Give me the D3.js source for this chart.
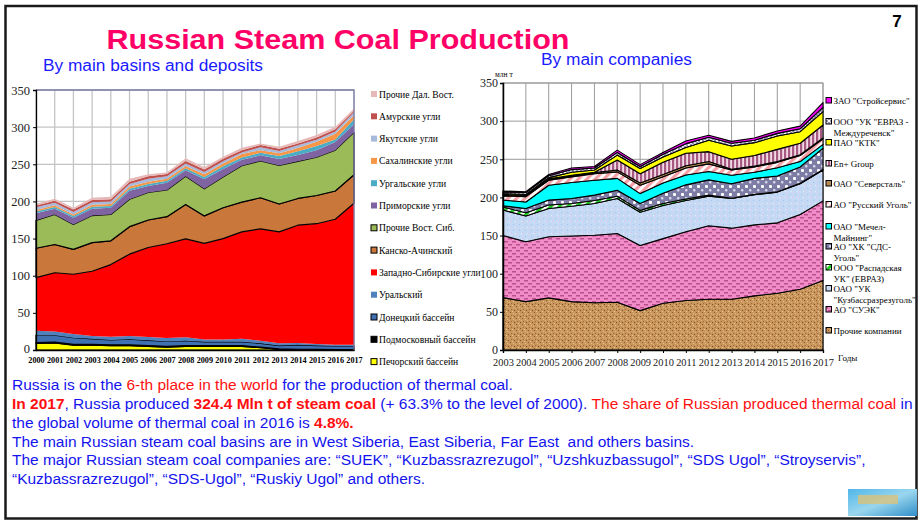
<!DOCTYPE html>
<html>
<head>
<meta charset="utf-8">
<script src="https://cdn.jsdelivr.net/npm/d3@7/dist/d3.min.js"></script>
<style>
	body { margin: 0; background: #fff; }
	svg { display: block; }
</style>
</head>
<body>
<svg id="slide" width="921" height="522"></svg>
<script>
// ---- left chart: by basins, mln t ----
var basinYears = [2000, 2001, 2002, 2003, 2004, 2005, 2006, 2007, 2008, 2009, 2010, 2011, 2012, 2013, 2014, 2015, 2016, 2017];
var pechora    = [9, 9.5, 6.5, 6.5, 6, 6, 5, 4, 5, 5, 5, 5, 3, 1, 0.5, 0.3, 0.2, 0.2];
var podmoskov  = [1, 1, 1, 1, 1, 1, 1, 1, 1, 0.8, 0.8, 0.8, 0.8, 0.5, 0.5, 0.5, 0.5, 0.5];
var donetsk    = [10, 9.5, 9, 7.5, 6.5, 7.5, 7, 6.5, 6.5, 5.2, 5.2, 5.2, 5.2, 4.5, 6, 5.2, 4.8, 4.8];
var ural       = [6, 5, 5, 4, 4.5, 4.5, 4.5, 4.5, 4.5, 3, 3, 4, 3.5, 3, 2.5, 2, 1.5, 1.5];
var westSib    = [71.5, 79, 80.5, 87, 97, 110, 120.5, 127, 132.5, 129.5, 136, 144, 150.5, 150, 158.5, 162, 169, 190.5];
var kanskAch   = [39.5, 38, 33.5, 38.5, 32, 37, 37, 36.5, 46.5, 37, 41.5, 40, 42, 37.5, 36, 38, 38, 38.5];
var eastSibEtc = [37.5, 40.5, 33.5, 36.5, 35.5, 37, 37, 36, 38, 36.5, 41.5, 49, 49.5, 52, 50, 51.5, 55, 57];
var primorye   = [9.5, 7.5, 9, 9, 9, 11.5, 8.8, 9.5, 8, 13, 10.5, 8, 7.5, 8.5, 8.5, 9.5, 11, 11];
var urgal      = [2.5, 2.5, 2.5, 3, 2.5, 2.5, 2.7, 3, 2.5, 3, 4, 3, 3.5, 4, 5, 5.5, 3.5, 6.5];
var sakhalin   = [2, 2.5, 2, 2.5, 2.5, 3, 3, 2.5, 3.2, 3.5, 3.5, 5, 3.5, 4, 4.5, 6, 7.5, 5.5];
var yakutia    = [3.6, 3.3, 3.3, 3.3, 3.5, 3.5, 4.1, 3.5, 3.3, 3.1, 3, 2, 3.8, 3, 3.5, 2.5, 3, 4];
var amur       = [2.4, 2.7, 3.2, 3.2, 3, 3.1, 3.2, 3, 3.4, 3.4, 3.6, 3, 3.2, 3, 2.5, 3, 3, 2];
var farEastEtc = [2.5, 2.7, 2.6, 3, 3.4, 4, 2.7, 2, 3.6, 3, 2.4, 3.4, 2, 2.7, 3.3, 3.4, 3.6, 3];
var basinNames = ["Печорский бассейн", "Подмосковный бассейн", "Донецкий бассейн", "Уральский",
	"Западно-Сибирские угли", "Канско-Ачинский", "Прочие Вост. Сиб.", "Приморские угли",
	"Ургальские угли", "Сахалинские угли", "Якутские угли", "Амурские угли", "Прочие Дал. Вост."];
var basinSeries = [pechora, podmoskov, donetsk, ural, westSib, kanskAch, eastSibEtc, primorye,
	urgal, sakhalin, yakutia, amur, farEastEtc];
var basinTicks = [0, 50, 100, 150, 200, 250, 300, 350];

// ---- right chart: by companies, mln t ----
var companyYears = [2003, 2004, 2005, 2006, 2007, 2008, 2009, 2010, 2011, 2012, 2013, 2014, 2015, 2016, 2017];
var otherCos   = [68.7, 63.4, 68.3, 63.4, 62, 62.6, 51.6, 61.3, 64.8, 66.5, 66.5, 70.9, 74.4, 79.6, 91];
var suek       = [81.3, 78.6, 80.2, 86.1, 88.5, 90.2, 85.4, 84.7, 90.2, 96.3, 93.2, 93.1, 92.3, 98, 104.5];
var kuzbass    = [33.5, 33.6, 37, 39, 41.5, 45.7, 43.5, 43.5, 41, 38.7, 38.8, 39.5, 40.3, 40.4, 40.5];
var raspadskaya= [4, 4.4, 4.5, 3.5, 4, 3, 2.5, 2.5, 2, 1.5, 0.5, 0.5, 0.5, 0.5, 0.5];
var sdsUgol    = [1.5, 5.5, 6.5, 6.5, 7, 8, 9, 13.5, 18.5, 20, 19, 21, 20.5, 21.5, 28];
var mechel     = [7.5, 8.5, 19.5, 21, 19.5, 15.5, 13, 13.5, 13, 11, 11, 8, 11, 7, 5];
var russUgol   = [5.5, 7, 6.5, 7.5, 8.5, 8.5, 11, 8, 9, 10, 7, 7, 7, 8, 7.5];
var severstal  = [1, 1, 1.5, 1.5, 1.5, 2.5, 3, 3, 3, 3, 1, 1, 1, 1, 1];
var enPlus     = [0.5, 0.5, 0.5, 0.5, 0.5, 13, 12, 16, 16.5, 13, 13, 14, 16, 15, 17];
var ktk        = [1.5, 1.5, 1.5, 4, 3, 6.5, 7, 7, 7.5, 15, 17.4, 16.8, 17.5, 15.2, 17.5];
var evrazMezh  = [2, 2.5, 2.5, 3.5, 2.5, 3.5, 2.5, 3.5, 5, 3.8, 3.6, 3.2, 3.5, 3.8, 5.5];
var stroyserv  = [1.5, 1, 1.5, 2, 2, 3, 2.5, 2.5, 3.5, 2.8, 2.5, 3, 3, 3.5, 6.4];
var companySeries = [otherCos, suek, kuzbass, raspadskaya, sdsUgol, mechel, russUgol, severstal,
	enPlus, ktk, evrazMezh, stroyserv];
// legend labels, top to bottom, split in lines
var companyLabels = [
	['ЗАО "Стройсервис"'],
	['ООО "УК "ЕВРАЗ -', 'Междуреченск"'],
	['ПАО "КТК"'],
	['En+ Group'],
	['ОАО "Северсталь"'],
	['АО "Русский Уголь"'],
	['ОАО "Мечел-', 'Майнинг"'],
	['АО "ХК "СДС-', 'Уголь"'],
	['ООО "Распадская', 'УК" (ЕВРАЗ)'],
	['ОАО "УК', '"Кузбассразрезуголь"'],
	['АО "СУЭК"'],
	['Прочие компании']
];
var companyTicks = [0, 50, 100, 150, 200, 250, 300, 350];

var svg = d3.select("#slide");
var defs = svg.append("defs");
var serif = "'Liberation Serif', 'Times New Roman', serif";
var sans = "'Liberation Sans', Arial, sans-serif";

/**
 * Small tiling pattern: background colour plus a list of shapes.
 */
function pattern(id, w, h, bg, shapes, transform) {
	var p = defs.append("pattern").attr("id", id)
		.attr("patternUnits", "userSpaceOnUse").attr("width", w).attr("height", h);
	if (transform) p.attr("patternTransform", transform);
	p.append("rect").attr("width", w).attr("height", h).attr("fill", bg);
	shapes.forEach(function (s) {
		p.append("rect").attr("x", s[0]).attr("y", s[1]).attr("width", s[2])
			.attr("height", s[3]).attr("fill", s[4]).attr("rx", s[5] || 0);
	});
	return "url(#" + id + ")";
}

var sandFill = pattern("sand", 6, 6, "#c8965c", [
	[0, 0, 1, 1, "#8c5c2c"], [3, 1, 1, 1, "#e6c18e"], [1, 3, 1, 1, "#a06a36"],
	[4, 4, 1, 1, "#7a4e24"], [5, 2, 1, 1, "#ddb37c"], [2, 5, 1, 1, "#e9c897"]]);
var suekFill = pattern("suek", 8, 6, "#f28cc8", [
	[0, 1, 4, 1.5, "#b8508c"], [4, 4, 4, 1.5, "#b8508c"]]);
var kuzbFill = pattern("kuzb", 6, 6, "#c4daf4", [
	[0, 0, 1, 1, "#e9cde9"], [3, 2, 1, 1, "#a9c1ea"], [1, 4, 1, 1, "#dcc4ec"], [5, 5, 1, 1, "#e4eefb"]]);
var raspFill = pattern("rasp", 6, 6, "#ffffff", [[0, 0, 3, 6, "#22cc22"]], "rotate(45)");
var sdsFill = pattern("sds", 8, 8, "#7c7ca4", [
	[1, 1, 3, 3, "#ffffff", 1], [5, 5, 2.5, 2.5, "#d8d8ea", 1]]);
var russFill = pattern("russ", 6, 6, "#ffffff", [[0, 0, 3.2, 6, "#f4a0a6"]], "rotate(45)");
var enFill = pattern("enplus", 4, 4, "#f3dbe6", [[0, 0, 2.2, 4, "#a65a82"]]);
var evrazFill = pattern("evraz", 4, 4, "#9494b4", [[0, 0, 2, 2, "#ffffff"], [2, 2, 2, 2, "#dcdcec"]]);

var basinColors = ["#ffff00", "#000000", "#3f70b2", "#4f81bd", "#ff0000", "#c9773a", "#9bbb59",
	"#8064a2", "#4bacc6", "#f79646", "#a8badb", "#c0504d", "#e6b9b8"];
var basinOutlined = [true, true, true, false, false, true, true, false, false, false, false, false, false];
var companyFills = [sandFill, suekFill, kuzbFill, raspFill, sdsFill, "#00ffff", russFill,
	"#b48a54", enFill, "#ffff00", evrazFill, "#ff00ff"];

// ---- frame and headings ----
svg.append("rect").attr("x", 5.5).attr("y", 6).attr("width", 911).attr("height", 512.5)
	.attr("fill", "#fff").attr("stroke", "#1a1a1a").attr("stroke-width", 2.5);

svg.append("text").attr("x", 338).attr("y", 49).attr("text-anchor", "middle")
	.attr("font-family", sans).attr("font-weight", "bold").attr("font-size", 28)
	.attr("fill", "#ff0066").attr("textLength", 463).attr("lengthAdjust", "spacingAndGlyphs")
	.text("Russian Steam Coal Production");
svg.append("text").attr("x", 897).attr("y", 27).attr("text-anchor", "middle")
	.attr("font-family", sans).attr("font-weight", "bold").attr("font-size", 17)
	.text("7");
svg.append("text").attr("x", 43).attr("y", 71).attr("font-family", sans).attr("font-size", 16)
	.attr("fill", "#1a1aff").attr("textLength", 220).attr("lengthAdjust", "spacingAndGlyphs")
	.text("By main basins and deposits");
svg.append("text").attr("x", 541).attr("y", 65).attr("font-family", sans).attr("font-size", 16)
	.attr("fill", "#1a1aff").attr("textLength", 151).attr("lengthAdjust", "spacingAndGlyphs")
	.text("By main companies");

// ---- left chart ----
(function () {
	var x = d3.scaleLinear().domain([2000, 2017]).range([36, 354]);
	var y = d3.scaleLinear().domain([0, 350]).range([350, 90]);
	var g = svg.append("g");

	var rows = basinYears.map(function (yr, i) {
		var r = { year: yr };
		basinSeries.forEach(function (s, k) { r[k] = s[i]; });
		return r;
	});
	var stack = d3.stack().keys(d3.range(basinSeries.length))(rows);

	g.selectAll(".vgrid").data(basinYears).join("line")
		.attr("x1", d => x(d)).attr("x2", d => x(d)).attr("y1", y(350)).attr("y2", y(0))
		.attr("stroke", "#c4c4c4").attr("stroke-width", 1.3);
	g.selectAll(".hgrid").data(basinTicks).join("line")
		.attr("x1", x(2000)).attr("x2", x(2017)).attr("y1", d => y(d)).attr("y2", d => y(d))
		.attr("stroke", "#c4c4c4").attr("stroke-width", 1.3);

	var area = d3.area().x(d => x(d.data.year)).y0(d => y(d[0])).y1(d => y(d[1]));
	g.selectAll(".basin").data(stack).join("path")
		.attr("d", area)
		.attr("fill", (d, i) => basinColors[i])
		.attr("stroke", (d, i) => basinOutlined[i] ? "#000" : "none")
		.attr("stroke-width", 1.2).attr("stroke-linejoin", "round");

	// plot frame (top and right)
	g.append("path").attr("d", "M" + x(2000) + "," + y(350) + "H" + x(2017) + "V" + y(0))
		.attr("fill", "none").attr("stroke", "#7c7ca6").attr("stroke-width", 1.3);

	var yAxis = g.append("g").attr("transform", "translate(" + x(2000) + ",0)")
		.call(d3.axisLeft(y).tickValues(basinTicks).tickSize(3).tickPadding(3));
	yAxis.select(".domain").attr("stroke", "#000").attr("stroke-width", 1.3);
	yAxis.selectAll("text").attr("font-family", serif).attr("font-size", 12.5).attr("fill", "#222");
	yAxis.selectAll(".tick text").filter(d => d === 0).attr("dy", "0.2em");

	var xAxis = g.append("g").attr("transform", "translate(0," + y(0) + ")")
		.call(d3.axisBottom(x).tickValues(basinYears).tickFormat(d3.format("d")).tickSize(0).tickPadding(7));
	xAxis.select(".domain").attr("stroke", "#000").attr("stroke-width", 1.3);
	xAxis.selectAll("text").attr("font-family", serif).attr("font-size", 8.2)
		.attr("font-weight", "bold").attr("fill", "#000");

	// legend, top to bottom = reverse stack order
	var leg = g.append("g");
	basinNames.slice().reverse().forEach(function (name, j) {
		var k = basinNames.length - 1 - j;
		var cy = 94.5 + j * 22.3;
		leg.append("rect").attr("x", 371).attr("y", cy - 3.5).attr("width", 6).attr("height", 6)
			.attr("fill", basinColors[k])
			.attr("stroke", basinOutlined[k] ? "#000" : "none").attr("stroke-width", 1);
		leg.append("text").attr("x", 379).attr("y", cy + 3).attr("font-family", serif)
			.attr("font-size", 9.6).attr("fill", "#000").text(name);
	});
})();

// ---- right chart ----
(function () {
	var x = d3.scaleLinear().domain([2003, 2017]).range([503, 823]);
	var y = d3.scaleLinear().domain([0, 350]).range([350, 83]);
	var g = svg.append("g");

	var rows = companyYears.map(function (yr, i) {
		var r = { year: yr };
		companySeries.forEach(function (s, k) { r[k] = s[i]; });
		return r;
	});
	var stack = d3.stack().keys(d3.range(companySeries.length))(rows);

	g.append("rect").attr("x", x(2003)).attr("y", y(350)).attr("width", x(2017) - x(2003))
		.attr("height", y(0) - y(350)).attr("fill", "#fff").attr("stroke", "#9a9a9a");
	g.selectAll(".vgrid").data(companyYears).join("line")
		.attr("x1", d => x(d)).attr("x2", d => x(d)).attr("y1", y(350)).attr("y2", y(0))
		.attr("stroke", "#9a9a9a").attr("stroke-width", 1);
	g.selectAll(".hgrid").data(companyTicks).join("line")
		.attr("x1", x(2003)).attr("x2", x(2017)).attr("y1", d => y(d)).attr("y2", d => y(d))
		.attr("stroke", "#9a9a9a").attr("stroke-width", 1);

	var area = d3.area().x(d => x(d.data.year)).y0(d => y(d[0])).y1(d => y(d[1]));
	g.selectAll(".company").data(stack).join("path")
		.attr("d", area)
		.attr("fill", (d, i) => companyFills[i])
		.attr("stroke", "#000").attr("stroke-width", 1.1).attr("stroke-linejoin", "round");

	var yAxis = g.append("g").attr("transform", "translate(" + x(2003) + ",0)")
		.call(d3.axisLeft(y).tickValues(companyTicks).tickSize(3).tickPadding(2));
	yAxis.select(".domain").attr("stroke", "#000").attr("stroke-width", 1.5);
	yAxis.selectAll("text").attr("font-family", serif).attr("font-size", 12).attr("fill", "#222");

	var xAxis = g.append("g").attr("transform", "translate(0," + y(0) + ")")
		.call(d3.axisBottom(x).tickValues(companyYears).tickFormat(d3.format("d")).tickSize(3).tickPadding(6));
	xAxis.select(".domain").attr("stroke", "#000").attr("stroke-width", 1.3);
	xAxis.selectAll("text").attr("font-family", serif).attr("font-size", 10.4).attr("fill", "#222");

	g.append("text").attr("x", 495).attr("y", 77).attr("font-family", serif).attr("font-size", 7.5)
		.text("млн т");
	g.append("text").attr("x", 838).attr("y", 361).attr("font-family", serif).attr("font-size", 9)
		.text("Годы");

	// legend
	var legY = [101, 122, 143, 164, 184, 205, 227, 247, 268, 289, 310, 331];
	var leg = g.append("g");
	companyLabels.forEach(function (lines, j) {
		var k = companySeries.length - 1 - j;
		var cy = legY[j];
		leg.append("rect").attr("x", 826).attr("y", cy - 3.5).attr("width", 5.5).attr("height", 5.5)
			.attr("fill", companyFills[k]).attr("stroke", "#000").attr("stroke-width", 1);
		lines.forEach(function (t, li) {
			leg.append("text").attr("x", 833.5).attr("y", cy + 3 + li * 10.7)
				.attr("font-family", serif).attr("font-size", 9).attr("fill", "#000").text(t);
		});
	});
})();

// ---- body text ----
var bodyLines = [
	[["Russia is on the ", "b"], ["6-th place in the world", "r"], [" for the production of thermal coal.", "b"]],
	[["In 2017", "R"], [", Russia produced ", "b"], ["324.4 Mln t of steam coal", "R"],
		[" (+ 63.3% to the level of 2000). ", "b"], ["The share of Russian produced thermal coal", "r"], [" in", "b"]],
	[["the global volume of thermal coal in 2016 is ", "b"], ["4.8%.", "R"]],
	[["The main Russian steam coal basins are in West Siberia, East Siberia, Far East  and others basins.", "b"]],
	[["The major Russian steam coal companies are: “SUEK”, “Kuzbassrazrezugol”, “Uzshkuzbassugol”, “SDS Ugol”, “Stroyservis”,", "b"]],
	[["“Kuzbassrazrezugol”, “SDS-Ugol”, “Ruskiy Ugol” and others.", "b"]]
];
var bodyBase = [390, 409, 428, 446.5, 465, 484];
var bodyTexts = bodyLines.map(function (parts, i) {
	var t = svg.append("text").attr("font-family", sans).attr("font-size", 15.5)
		.attr("xml:space", "preserve").style("white-space", "pre");
	parts.forEach(function (p) {
		t.append("tspan").text(p[0])
			.attr("fill", p[1] === "b" ? "#1414ee" : "#ff1010")
			.attr("font-weight", p[1] === "R" ? "bold" : "normal");
	});
	return t;
});
// one horizontal squeeze for all lines, taken from the longest line
var squeeze = 901 / bodyTexts[1].node().getComputedTextLength();
bodyTexts.forEach(function (t, i) {
	t.attr("transform", "translate(12," + bodyBase[i] + ") scale(" + squeeze + ",1)");
});

// small picture in the corner
var grad = defs.append("linearGradient").attr("id", "logo").attr("x1", 0).attr("y1", 0).attr("x2", 1).attr("y2", 1);
grad.append("stop").attr("offset", 0).attr("stop-color", "#4fb6e8");
grad.append("stop").attr("offset", 0.5).attr("stop-color", "#9ad6ee");
grad.append("stop").attr("offset", 1).attr("stop-color", "#2f8ec8");
svg.append("rect").attr("x", 848).attr("y", 489).attr("width", 69).attr("height", 27).attr("fill", "url(#logo)");
svg.append("rect").attr("x", 858).attr("y", 495).attr("width", 40).attr("height", 9).attr("fill", "#d8c27a").attr("opacity", 0.8);
</script>
</body>
</html>
